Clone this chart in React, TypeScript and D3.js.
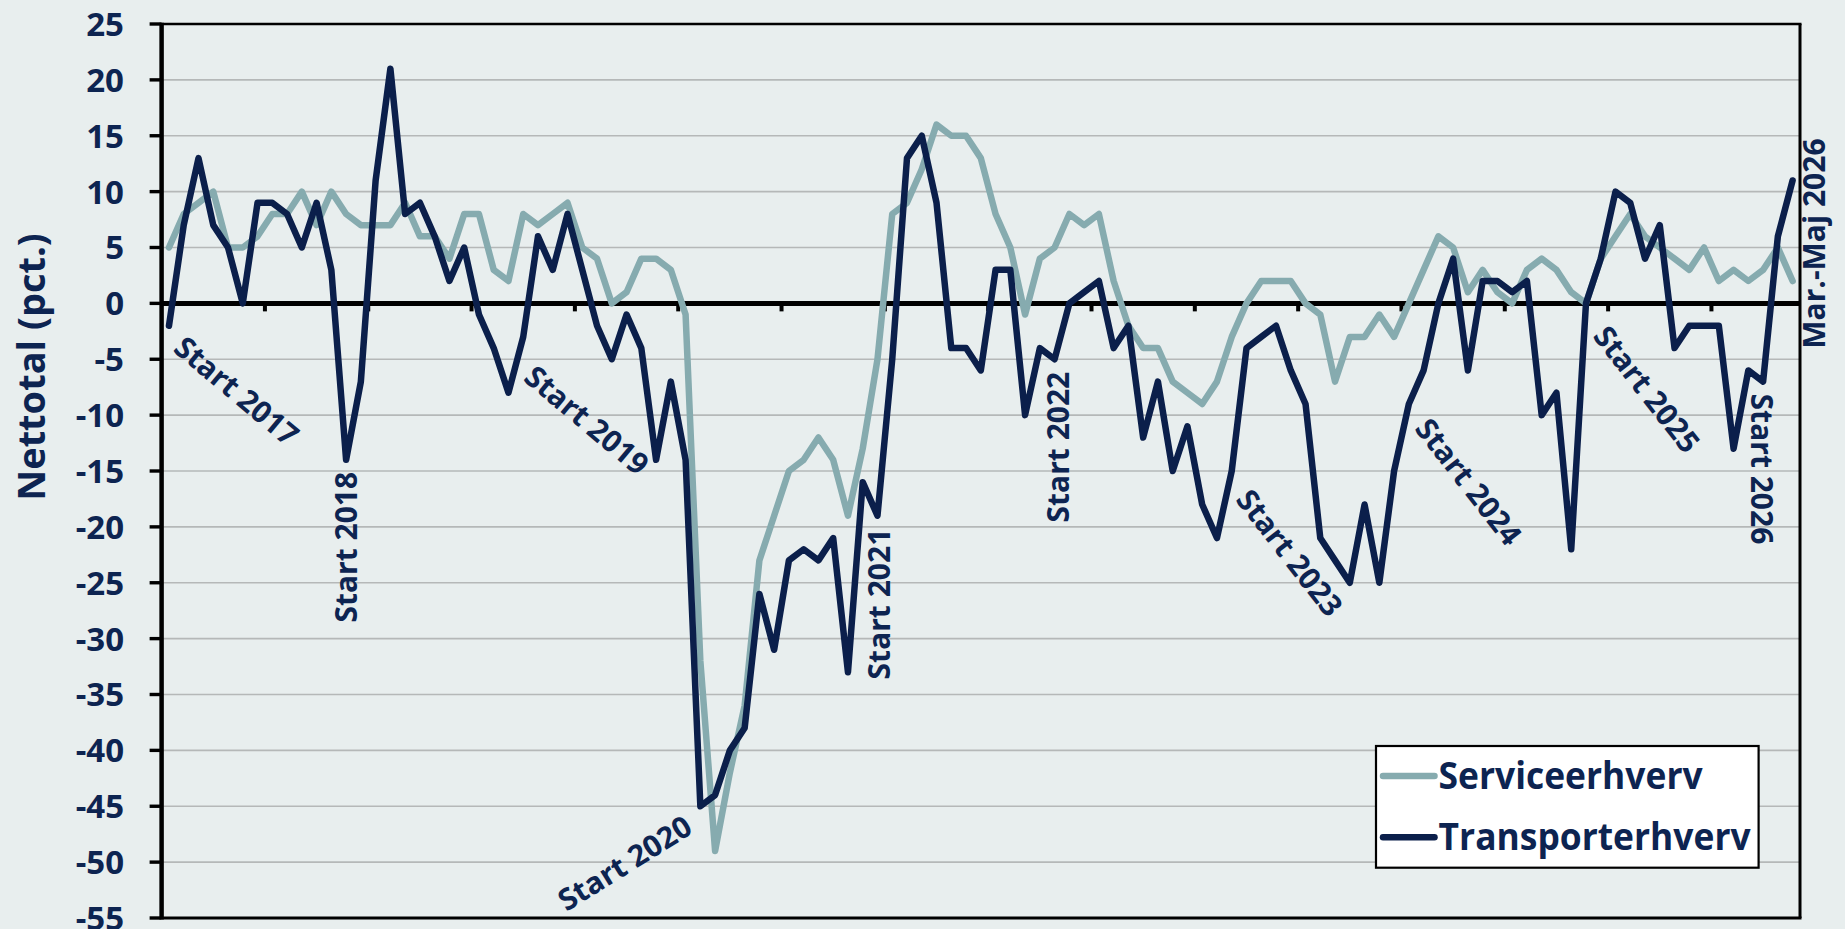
import React from "react";
import * as d3 from "d3";

// ---------- DATA ----------
const serviceerhverv: number[] = [
  5, 8, 9, 10, 5, 5, 6, 8, 8, 10,
  7, 10, 8, 7, 7, 7, 9, 6, 6, 4,
  8, 8, 3, 2, 8, 7, 8, 9, 5, 4,
  0, 1, 4, 4, 3, -1, -32, -49, -42, -36,
  -23, -19, -15, -14, -12, -14, -19, -13, -5, 8,
  9, 12, 16, 15, 15, 13, 8, 5, -1, 4,
  5, 8, 7, 8, 2, -2, -4, -4, -7, -8,
  -9, -7, -3, 0, 2, 2, 2, 0, -1, -7,
  -3, -3, -1, -3, 0, 3, 6, 5, 1, 3,
  1, 0, 3, 4, 3, 1, 0, 4, 6, 8,
  6, 5, 4, 3, 5, 2, 3, 2, 3, 5, 2,
];

const transporterhverv: number[] = [
  -2, 7, 13, 7, 5, 0, 9, 9, 8, 5,
  9, 3, -14, -7, 11, 21, 8, 9, 6, 2,
  5, -1, -4, -8, -3, 6, 3, 8, 3, -2,
  -5, -1, -4, -14, -7, -14, -45, -44, -40, -38,
  -26, -31, -23, -22, -23, -21, -33, -16, -19, -5,
  13, 15, 9, -4, -4, -6, 3, 3, -10, -4,
  -5, 0, 1, 2, -4, -2, -12, -7, -15, -11,
  -18, -21, -15, -4, -3, -2, -6, -9, -21, -23,
  -25, -18, -25, -15, -9, -6, 0, 4, -6, 2,
  2, 1, 2, -10, -8, -22, 0, 4, 10, 9,
  4, 7, -4, -2, -2, -2, -13, -6, -7, 6, 11,
];

// monthly categories Jan 2017 .. Mar 2026
const categories: string[] = d3
  .timeMonth.range(new Date(2017, 0, 1), new Date(2026, 3, 1))
  .map((d) => d3.timeFormat("%Y-%m")(d));

const yTicks: number[] = [25, 20, 15, 10, 5, 0, -5, -10, -15, -20, -25, -30, -35, -40, -45, -50, -55];

const seriesNames: string[] = ["Serviceerhverv", "Transporterhverv"];

// annotations: label text and category index (attached to Transporterhverv)
const annotationTexts: string[] = [
  "Start 2017", "Start 2018", "Start 2019", "Start 2020", "Start 2021", "Start 2022",
  "Start 2023", "Start 2024", "Start 2025", "Start 2026", "Mar.-Maj 2026",
];
const annotationIndex: number[] = [0, 12, 24, 36, 48, 60, 72, 84, 96, 108, 110];

const yAxisTitle = "Nettotal (pct.)";

// ---------- LAYOUT / STYLE ----------
const W = 1845;
const H = 929;
const plot = { left: 161.6, right: 1800, top: 24, bottom: 918 };
const BG = "#E8EEEE";
const NAVY = "#0B1F4B";
const TEXT = "#0D2451";
const GREY_LINE = "#86ABAF";
const GRID = "#B5B8B8";
const FONT = "'Open Sans', 'Noto Sans', sans-serif";

const labelLayout: Record<string, { rot: number; dx: number; dy: number; anchor: string }> = {
  "Start 2017": { rot: 40, dx: 3, dy: 25, anchor: "start" },
  "Start 2018": { rot: -90, dx: 11, dy: 12, anchor: "end" },
  "Start 2019": { rot: 40, dx: -1, dy: 43, anchor: "start" },
  "Start 2020": { rot: -32, dx: -6, dy: 26, anchor: "end" },
  "Start 2021": { rot: -90, dx: 12.5, dy: 13, anchor: "end" },
  "Start 2022": { rot: -90, dx: 14, dy: 12.5, anchor: "end" },
  "Start 2023": { rot: 52, dx: 3, dy: 29, anchor: "start" },
  "Start 2024": { rot: 52, dx: 5, dy: 25, anchor: "start" },
  "Start 2025": { rot: 52, dx: 6, dy: 33, anchor: "start" },
  "Start 2026": { rot: 90, dx: -12, dy: 12, anchor: "start" },
  "Mar.-Maj 2026": { rot: -90, dx: 32, dy: -42, anchor: "end" },
};

export default function App() {
  const x = d3
    .scalePoint<string>()
    .domain(categories)
    .range([plot.left, plot.right])
    .padding(0.5);
  const step = x.step();
  const y = d3.scaleLinear().domain([-55, 25]).range([plot.bottom, plot.top]);

  const line = d3
    .line<number>()
    .x((_, i) => x(categories[i]) as number)
    .y((d) => y(d));

  const gridVals = yTicks.filter((v) => v !== 0 && v !== 25 && v !== -55);
  const xTickPos: number[] = [];
  for (let k = 7; k < categories.length; k += 7) xTickPos.push(plot.left + k * step);

  const legend = { x0: 1376, y0: 746, x1: 1758.6, y1: 867.7 };

  return (
    <div style={{ position: "absolute", left: 0, top: 0, width: W, height: H }}>
      <svg width={W} height={H} style={{ display: "block" }} fontFamily={FONT}>
        <rect x={0} y={0} width={W} height={H} fill={BG} />

        {/* gridlines */}
        {gridVals.map((v) => (
          <line key={"g" + v} x1={plot.left} x2={plot.right} y1={y(v)} y2={y(v)} stroke={GRID} strokeWidth={1.6} />
        ))}

        {/* plot border top / right / bottom */}
        <line x1={plot.left} x2={plot.right + 1.5} y1={plot.top} y2={plot.top} stroke="#000" strokeWidth={2.6} />
        <line x1={plot.right} x2={plot.right} y1={plot.top} y2={plot.bottom} stroke="#000" strokeWidth={3} />
        <line x1={plot.left} x2={plot.right + 1.5} y1={plot.bottom} y2={plot.bottom} stroke="#000" strokeWidth={3} />

        {/* y axis */}
        <line x1={plot.left} x2={plot.left} y1={plot.top - 1.3} y2={plot.bottom + 1.5} stroke="#000" strokeWidth={4.5} />
        {yTicks.map((v) => (
          <g key={"t" + v}>
            <line x1={plot.left - 12} x2={plot.left} y1={y(v)} y2={y(v)} stroke="#000" strokeWidth={3.4} />
            <text
              x={124}
              y={y(v)}
              dy="0.36em"
              textAnchor="end"
              fontSize={33}
              fontWeight={700}
              fill={TEXT}
            >
              {v}
            </text>
          </g>
        ))}

        {/* zero (category) axis */}
        <line x1={plot.left} x2={plot.right} y1={y(0)} y2={y(0)} stroke="#000" strokeWidth={5} />
        {xTickPos.map((p, i) => (
          <line key={"xt" + i} x1={p} x2={p} y1={y(0)} y2={y(0) + 8} stroke="#000" strokeWidth={4} />
        ))}

        {/* y axis title */}
        <text
          transform={`translate(45, 367) rotate(-90)`}
          textAnchor="middle"
          fontSize={38}
          fontWeight={700}
          fill={TEXT}
        >
          {yAxisTitle}
        </text>

        {/* series */}
        <path d={line(serviceerhverv) ?? ""} fill="none" stroke={GREY_LINE} strokeWidth={6.5} strokeLinejoin="round" strokeLinecap="round" />
        <path d={line(transporterhverv) ?? ""} fill="none" stroke={NAVY} strokeWidth={6.5} strokeLinejoin="round" strokeLinecap="round" />

        {/* annotations */}
        {annotationTexts.map((t, k) => {
          const idx = annotationIndex[k];
          const px = x(categories[idx]) as number;
          const py = y(transporterhverv[idx]);
          const L = labelLayout[t];
          return (
            <text
              key={"a" + k}
              transform={`translate(${px + L.dx}, ${py + L.dy}) rotate(${L.rot})`}
              textAnchor={L.anchor as any}
              fontSize={30}
              fontWeight={700}
              fill={TEXT}
            >
              {t}
            </text>
          );
        })}

        {/* legend */}
        <rect
          x={legend.x0}
          y={legend.y0}
          width={legend.x1 - legend.x0}
          height={legend.y1 - legend.y0}
          fill="#FFFFFF"
          stroke="#000"
          strokeWidth={2.2}
        />
        {seriesNames.map((name, i) => {
          const ly = i === 0 ? 776 : 837.3;
          const col = i === 0 ? GREY_LINE : NAVY;
          return (
            <g key={"l" + name}>
              <line x1={1383} x2={1434.5} y1={ly} y2={ly} stroke={col} strokeWidth={6.5} strokeLinecap="round" />
              <text
                x={1438.6}
                y={ly + 12.5}
                fontSize={37}
                fontWeight={700}
                fill={TEXT}
                textLength={i === 0 ? 264 : 312}
                lengthAdjust="spacingAndGlyphs"
              >
                {name}
              </text>
            </g>
          );
        })}
      </svg>
    </div>
  );
}
